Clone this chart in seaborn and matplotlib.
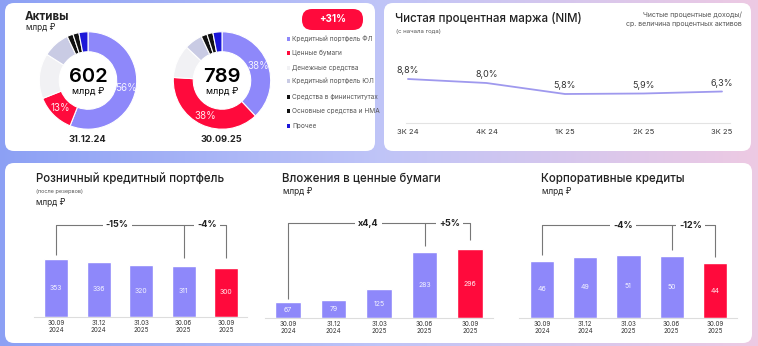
import numpy as np
import pandas as pd
import matplotlib
matplotlib.use('Agg')
import matplotlib.pyplot as plt
import seaborn as sns
from matplotlib.patches import FancyBboxPatch, Rectangle

# ---------------- data ----------------
asset_categories = ['Кредитный портфель ФЛ', 'Ценные бумаги', 'Денежные средства',
                    'Кредитный портфель ЮЛ', 'Средства в фининститутах',
                    'Основные средства и НМА', 'Прочее']
assets_dec24_share = [56, 13, 15, 9, 2, 2, 3]
assets_sep25_share = [38, 38, 11, 6, 2, 2, 3]
assets_totals = [602, 789]
assets_dates = ['31.12.24', '30.09.25']
assets_growth = '+31%'

nim_quarters = ['3К 24', '4К 24', '1К 25', '2К 25', '3К 25']
nim_values = [8.8, 8.0, 5.8, 5.9, 6.3]

bar_dates = ['30.09\n2024', '31.12\n2024', '31.03\n2025', '30.06\n2025', '30.09\n2025']
retail_values = [353, 336, 320, 311, 300]
securities_values = [67, 79, 125, 283, 296]
corporate_values = [46, 49, 51, 50, 44]
retail_changes = ['-15%', '-4%']
securities_changes = ['x4,4', '+5%']
corporate_changes = ['-4%', '-12%']

# ---------------- style ----------------
sns.set_theme(style='white')
plt.rcParams['font.family'] = ['Inter', 'DejaVu Sans']

PURPLE = '#8e88fa'
RED = '#ff0a3c'
asset_colors = [PURPLE, RED, '#f1f1f4', '#c9cbe4', '#111111', '#111111', '#1c17d8']
TXT = '#222222'
GREY = '#555555'

W, H = 758, 346
fig = plt.figure(figsize=(W / 100, H / 100), dpi=100)

bg = fig.add_axes([0, 0, 1, 1])
bg.set_xlim(0, W)
bg.set_ylim(H, 0)
bg.axis('off')

# gradient background
t = np.linspace(0, 1, 300)
c_left = np.array([0.55, 0.63, 0.96])
c_mid = np.array([0.75, 0.77, 0.97])
c_right = np.array([0.93, 0.79, 0.89])
grad = np.where(t[:, None] < 0.5,
                c_left + (c_mid - c_left) * (t[:, None] / 0.5),
                c_mid + (c_right - c_mid) * ((t[:, None] - 0.5) / 0.5))
bg.imshow(grad[None, :, :], extent=(0, W, H, 0), aspect='auto', zorder=0)

for (x0, y0, x1, y1) in [(5, 3, 375, 151), (384, 3, 751, 151), (5, 163, 752, 343)]:
    bg.add_patch(FancyBboxPatch((x0, y0), x1 - x0, y1 - y0,
                                boxstyle='round,pad=0,rounding_size=9',
                                fc='white', ec='none', zorder=1))


def add_ax(x0, y0, x1, y1):
    a = fig.add_axes([x0 / W, 1 - y1 / H, (x1 - x0) / W, (y1 - y0) / H])
    a.patch.set_alpha(0)
    return a


TITLE_FS = 8.3

# ---------------- Активы ----------------
bg.text(25, 17, 'Активы', fontsize=8.3, fontweight='bold', color=TXT, va='center', zorder=3)
bg.text(26, 27.5, 'млрд ₽', fontsize=6, color=TXT, va='center', zorder=3)

donut_centers = [(88, 80.5), (222, 80.5)]
for shares, total, date, (cx, cy) in zip([assets_dec24_share, assets_sep25_share],
                                         assets_totals, assets_dates, donut_centers):
    R = 48.7
    half = 53
    ax = add_ax(cx - half, cy - half, cx + half, cy + half)
    wedges, _ = ax.pie(shares, colors=asset_colors, startangle=90, counterclock=False,
                       wedgeprops=dict(width=0.41, edgecolor='white', linewidth=0.8))
    lim = half / R
    ax.set_xlim(-lim, lim)
    ax.set_ylim(-lim, lim)
    ax.set_aspect('equal')
    ax.axis('off')
    for i in [0, 1]:
        w = wedges[i]
        ang = np.deg2rad((w.theta1 + w.theta2) / 2)
        ax.text(0.8 * np.cos(ang), 0.8 * np.sin(ang), f'{shares[i]}%', color='white',
                alpha=0.9, fontsize=7, ha='center', va='center')
    bg.text(cx, cy - 4, f'{total}', fontsize=14.5, fontweight=600, color='black',
            ha='center', va='center', zorder=3)
    bg.text(cx, cy + 11.5, 'млрд ₽', fontsize=6.5, color='black',
            ha='center', va='center', zorder=3)
    bg.text(cx - 1, 140, date, fontsize=6.6, fontweight='bold', color=TXT,
            ha='center', va='center', zorder=3)

# growth pill
bg.add_patch(FancyBboxPatch((302, 9), 61, 21, boxstyle='round,pad=0,rounding_size=10',
                            fc=RED, ec='none', zorder=3))
bg.text(332.5, 19.5, assets_growth, fontsize=7, fontweight='bold', color='white',
        ha='center', va='center', zorder=4)

legend_y = [39, 53, 68, 81, 97, 111, 126]
for cat, col, ly in zip(asset_categories, asset_colors, legend_y):
    bg.add_patch(Rectangle((286.5, ly - 1.6), 3.2, 3.2, fc=col, ec='none', zorder=3))
    bg.text(292, ly, cat, fontsize=4.7, color=GREY, va='center', zorder=3)

# ---------------- NIM ----------------
bg.text(395, 19, 'Чистая процентная маржа (NIM)', fontsize=TITLE_FS, fontweight='medium',
        color=TXT, va='center', zorder=3)
bg.text(396, 31, '(с начала года)', fontsize=4.3, color=GREY, va='center', zorder=3)
bg.text(742, 15, 'Чистые процентные доходы/', fontsize=5, color=GREY,
        ha='right', va='center', zorder=3)
bg.text(742, 24, 'ср. величина процентных активов', fontsize=5, color=GREY,
        ha='right', va='center', zorder=3)

axn = add_ax(406, 60, 730, 123)
xpos = np.arange(len(nim_values))
sns.lineplot(x=xpos, y=nim_values, color='#9f99ee', linewidth=1.3, ax=axn)
axn.set_xlim(-0.025, (730 - 408) / 78.5)
axn.set_ylim(0, 63 / 5)
for xi, v in zip(xpos, nim_values):
    axn.annotate(f'{v:.1f}%'.replace('.', ','), (xi, v), xytext=(0, 6),
                 textcoords='offset points', ha='center', va='center',
                 fontsize=6.5, color='#333333')
axn.set_xticks(xpos)
axn.set_xticklabels(nim_quarters, fontsize=5.5, color='#333333')
axn.set_yticks([])
axn.tick_params(axis='x', length=0, pad=4)
for s in ['top', 'left', 'right']:
    axn.spines[s].set_visible(False)
axn.spines['bottom'].set_color('#e3e3e3')
axn.spines['bottom'].set_linewidth(0.8)
axn.set_xlabel('')
axn.set_ylabel('')

# ---------------- bar charts ----------------
charts = [
    dict(title='Розничный кредитный портфель', sub='(после резервов)', tx=36,
         vals=retail_values, changes=retail_changes,
         box=(34, 220, 247, 317), xlim=(-0.52, 4.49), scale=0.164,
         top=225, ends=(255, 258, 258), lab_x=(1.44, 3.55)),
    dict(title='Вложения в ценные бумаги', sub=None, tx=282,
         vals=securities_values, changes=securities_changes,
         box=(265, 220, 493, 318), xlim=(-0.505, 4.5), scale=0.232,
         top=223, ends=(299, 246, 240), lab_x=(1.76, 3.54)),
    dict(title='Корпоративные кредиты', sub=None, tx=541,
         vals=corporate_values, changes=corporate_changes,
         box=(519, 220, 737, 318), xlim=(-0.53, 4.51), scale=1.245,
         top=225, ends=(255, 250, 257), lab_x=(1.87, 3.44)),
]

for ch in charts:
    bg.text(ch['tx'], 179, ch['title'], fontsize=TITLE_FS, fontweight='medium', color=TXT,
            va='center', zorder=3)
    if ch['sub']:
        bg.text(ch['tx'], 192, ch['sub'], fontsize=4, color=GREY, va='center', zorder=3)
        bg.text(ch['tx'], 202.5, 'млрд ₽', fontsize=6, color=TXT, va='center', zorder=3)
    else:
        bg.text(ch['tx'] + 1, 191.5, 'млрд ₽', fontsize=6, color=TXT, va='center', zorder=3)

    x0, y0, x1, y1 = ch['box']
    ax = add_ax(x0, y0, x1, y1)
    df = pd.DataFrame({'date': bar_dates, 'value': ch['vals']})
    sns.barplot(data=df, x='date', y='value', hue='date',
                palette=[PURPLE] * 4 + [RED], legend=False, width=0.56,
                saturation=1, ax=ax)
    for c in ax.containers:
        ax.bar_label(c, fmt='{:.0f}', label_type='center', color='white',
                     fontsize=5, alpha=0.9)
    ax.set_xlim(*ch['xlim'])
    sc = ch['scale']
    ax.set_ylim(0, (y1 - y0) / sc)
    ax.set_xlabel('')
    ax.set_ylabel('')
    ax.set_yticks([])
    ax.tick_params(axis='x', length=0, pad=2, labelsize=4.5, labelcolor='#333333')
    for s in ['top', 'left', 'right']:
        ax.spines[s].set_visible(False)
    ax.spines['bottom'].set_color('#dddddd')
    ax.spines['bottom'].set_linewidth(0.8)

    # brackets (pixel heights converted to data units)
    ytop = (y1 - ch['top']) / sc
    e0, e3, e4 = [(y1 - e) / sc for e in ch['ends']]
    lk = dict(color='#777777', lw=0.8, solid_capstyle='butt')
    ax.plot([0, 0, 3, 3], [e0, ytop, ytop, e3], **lk, clip_on=False)
    ax.plot([3, 4, 4], [ytop, ytop, e4], **lk, clip_on=False)
    for lx, lab in zip(ch['lab_x'], ch['changes']):
        ax.text(lx, ytop, lab, fontsize=6.5, fontweight='bold', color=TXT,
                ha='center', va='center', clip_on=False,
                bbox=dict(fc='white', ec='none', pad=2.2))

fig.savefig('out.png', dpi=100)
